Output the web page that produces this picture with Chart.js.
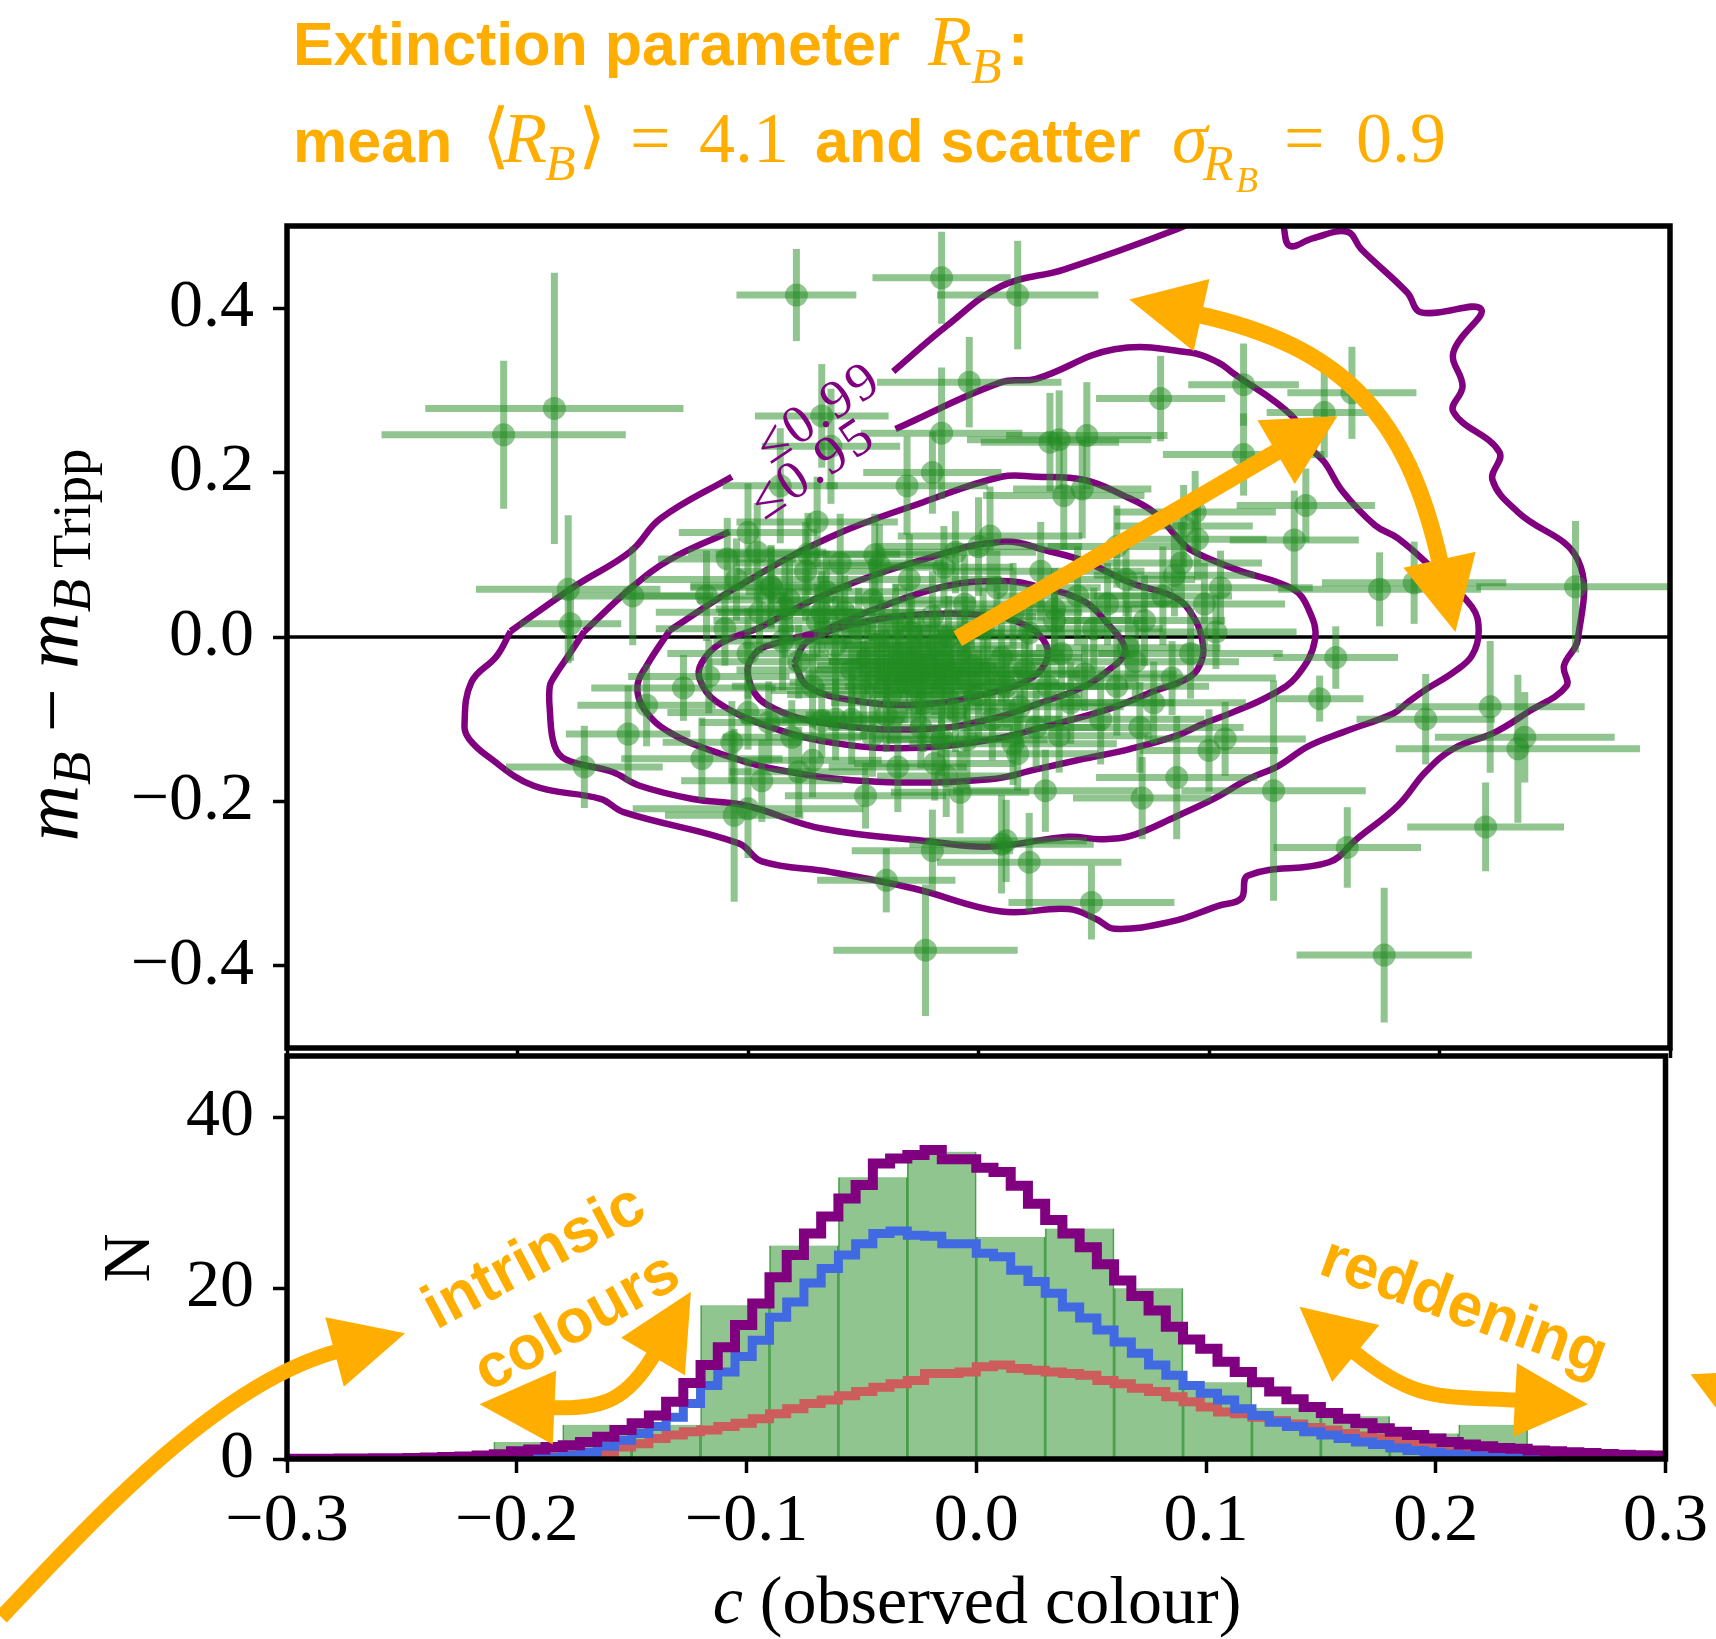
<!DOCTYPE html>
<html>
<head>
<meta charset="utf-8">
<title>Extinction parameter R_B</title>
<script src="https://cdn.jsdelivr.net/npm/chart.js@4.4.1/dist/chart.umd.min.js"></script>
<style>
  html, body { margin: 0; padding: 0; background: #fff; }
  #wrap { position: relative; width: 1716px; height: 1639px; overflow: hidden; background: #fff; }
  #wrap canvas { position: absolute; left: 0; top: 0; }
</style>
</head>
<body>
<div id="wrap">
  <canvas id="scatterChart" width="1716" height="1639"></canvas>
  <canvas id="histChart" width="1716" height="1639"></canvas>
</div>
<script>
// ---------------- data ----------------
// tick labels
const xTicks = [-0.3, -0.2, -0.1, 0.0, 0.1, 0.2, 0.3]
const topYTicks = [-0.4, -0.2, 0.0, 0.2, 0.4]
const histYTicks = [0, 20, 40]

// supernovae: observed colour c, Hubble residual, and their errors
const sx = [
  -0.206,-0.184,-0.079,-0.016,-0.016,-0.004,-0.068,-0.064,-0.086,-0.031,-0.020,-0.178,-0.150,-0.177,-0.100,-0.070,
  -0.109,-0.096,-0.074,-0.043,0.005,-0.010,-0.090,-0.084,-0.068,-0.118,0.017,0.079,0.115,0.115,0.150,0.162,
  0.142,0.137,0.095,0.035,0.047,0.031,0.037,0.045,0.174,0.189,0.259,0.094,0.089,0.085,0.155,0.148,
  0.194,0.222,0.237,0.234,0.220,0.160,0.176,0.128,0.049,0.022,0.012,0.071,0.086,0.100,0.107,0.029,
  0.017,0.103,0.033,0.065,-0.171,-0.152,-0.128,-0.144,-0.117,-0.106,-0.100,-0.040,-0.023,-0.020,0.010,-0.049,
  -0.094,-0.078,-0.072,-0.107,-0.100,-0.091,-0.068,-0.062,-0.035,-0.019,-0.014,-0.008,-0.120,-0.081,-0.046,-0.016,
  -0.090,-0.082,-0.075,-0.070,-0.066,-0.062,-0.058,-0.055,-0.052,-0.050,-0.048,-0.046,-0.044,-0.042,-0.040,-0.038,
  -0.036,-0.035,-0.034,-0.032,-0.030,-0.029,-0.028,-0.026,-0.025,-0.024,-0.022,-0.020,-0.019,-0.018,-0.016,-0.015,
  -0.013,-0.012,-0.010,-0.008,-0.006,-0.005,-0.003,0.000,0.002,0.004,0.006,0.008,0.010,0.012,0.015,0.018,
  0.020,0.022,0.025,0.027,0.030,0.033,0.036,0.040,0.043,0.046,0.050,0.053,0.056,0.060,0.064,0.068,
  0.072,0.076,0.080,0.084,0.088,0.092,-0.072,-0.078,-0.085,-0.095,-0.100,-0.105,-0.110,-0.060,-0.045,-0.030,
  -0.015,0.000,-0.040,-0.025,-0.055,0.015,-0.005,0.035,0.060,0.070,0.098,0.105
]
const sy = [
  0.246,0.278,0.416,0.437,0.248,0.310,0.269,0.232,0.184,0.184,0.200,0.058,0.050,0.016,0.127,0.140,
  0.095,0.103,0.101,0.087,0.123,0.103,0.062,0.034,0.030,0.050,0.416,0.290,0.307,0.222,0.273,0.297,
  0.160,0.118,0.119,0.240,0.245,0.237,0.172,0.180,0.058,0.066,0.061,0.152,0.135,0.075,-0.025,-0.075,
  -0.100,-0.085,-0.122,-0.136,-0.231,-0.256,-0.387,-0.187,-0.323,-0.274,-0.248,-0.196,-0.171,-0.138,-0.124,-0.187,
  -0.142,0.006,0.034,-0.013,-0.158,-0.118,-0.062,-0.083,-0.048,-0.217,-0.209,-0.296,-0.381,-0.260,-0.252,-0.193,
  -0.175,-0.164,-0.150,-0.128,-0.092,-0.104,-0.102,-0.100,-0.158,-0.154,-0.169,-0.189,-0.148,-0.122,-0.120,-0.124,
  0.060,0.045,0.080,0.020,0.055,-0.010,0.030,-0.040,0.010,-0.065,-0.025,0.045,-0.050,-0.005,-0.035,-0.070,
  0.015,-0.045,-0.020,-0.055,-0.030,0.005,-0.060,-0.040,-0.015,-0.080,-0.035,0.025,-0.050,-0.010,-0.065,-0.030,
  0.000,-0.045,-0.090,-0.020,0.040,-0.055,-0.035,-0.070,0.010,-0.045,-0.100,0.060,-0.025,-0.060,0.030,-0.085,
  -0.040,0.005,-0.110,0.080,-0.060,0.020,-0.020,-0.080,0.050,-0.045,0.010,-0.100,0.040,-0.060,0.070,-0.030,
  0.020,-0.080,0.050,-0.050,0.090,-0.020,-0.060,-0.030,-0.005,0.030,-0.020,0.070,0.010,0.090,0.100,0.070,
  0.085,0.110,-0.095,-0.110,-0.100,-0.130,-0.125,-0.120,0.110,-0.110,0.040,0.060
]
const sxErr = [
  0.053,0.056,0.026,0.030,0.035,0.040,0.029,0.030,0.025,0.035,0.030,0.040,0.035,0.022,0.030,0.035,
  0.030,0.030,0.040,0.030,0.040,0.035,0.035,0.030,0.045,0.035,0.035,0.028,0.024,0.035,0.025,0.028,
  0.030,0.028,0.030,0.040,0.035,0.030,0.035,0.030,0.044,0.040,0.043,0.035,0.030,0.035,0.027,0.019,
  0.030,0.041,0.039,0.053,0.034,0.032,0.038,0.040,0.036,0.040,0.035,0.030,0.035,0.030,0.035,0.040,
  0.035,0.035,0.040,0.040,0.034,0.027,0.040,0.030,0.035,0.030,0.050,0.030,0.040,0.035,0.040,0.035,
  0.035,0.030,0.030,0.030,0.035,0.030,0.035,0.030,0.030,0.035,0.030,0.030,0.035,0.030,0.035,0.030,
  0.035,0.040,0.030,0.045,0.035,0.040,0.030,0.050,0.035,0.040,0.030,0.045,0.035,0.040,0.030,0.045,
  0.035,0.040,0.030,0.050,0.035,0.040,0.030,0.045,0.035,0.040,0.030,0.045,0.035,0.040,0.030,0.050,
  0.035,0.040,0.030,0.045,0.035,0.040,0.030,0.045,0.035,0.040,0.030,0.045,0.035,0.040,0.030,0.045,
  0.035,0.040,0.030,0.045,0.035,0.040,0.030,0.045,0.035,0.040,0.030,0.045,0.035,0.040,0.030,0.045,
  0.035,0.040,0.030,0.045,0.035,0.040,0.035,0.040,0.030,0.045,0.035,0.040,0.030,0.045,0.035,0.040,
  0.030,0.045,0.035,0.040,0.030,0.045,0.035,0.040,0.030,0.045,0.035,0.040
]
const syErr = [
  0.090,0.165,0.056,0.056,0.080,0.055,0.063,0.070,0.070,0.060,0.050,0.090,0.060,0.045,0.060,0.055,
  0.050,0.060,0.050,0.050,0.060,0.050,0.050,0.060,0.050,0.055,0.066,0.052,0.050,0.050,0.055,0.056,
  0.045,0.060,0.050,0.060,0.065,0.060,0.065,0.060,0.045,0.050,0.080,0.050,0.050,0.050,0.038,0.028,
  0.055,0.080,0.055,0.090,0.054,0.049,0.082,0.134,0.045,0.060,0.050,0.050,0.075,0.050,0.045,0.050,
  0.045,0.045,0.050,0.050,0.050,0.059,0.040,0.050,0.045,0.105,0.060,0.039,0.080,0.050,0.060,0.040,
  0.050,0.055,0.045,0.050,0.045,0.050,0.045,0.050,0.055,0.045,0.050,0.050,0.050,0.045,0.050,0.045,
  0.050,0.055,0.060,0.045,0.050,0.060,0.045,0.055,0.050,0.060,0.045,0.050,0.055,0.050,0.045,0.060,
  0.050,0.055,0.045,0.050,0.060,0.045,0.050,0.055,0.045,0.060,0.050,0.055,0.045,0.050,0.060,0.045,
  0.050,0.055,0.050,0.045,0.060,0.050,0.045,0.055,0.050,0.060,0.050,0.045,0.055,0.050,0.060,0.045,
  0.050,0.055,0.050,0.060,0.045,0.050,0.055,0.050,0.060,0.045,0.050,0.055,0.050,0.060,0.045,0.050,
  0.055,0.050,0.060,0.045,0.050,0.055,0.050,0.045,0.060,0.050,0.055,0.050,0.045,0.060,0.050,0.055,
  0.050,0.060,0.045,0.050,0.055,0.050,0.060,0.045,0.050,0.055,0.050,0.045
]

// probability contours of the model (null = gap for the label)
const contour1X = [-0.080,-0.074,-0.050,-0.021,0.005,0.020,0.028,0.030,0.023,0.005,-0.025,-0.055,-0.074,-0.080]
const contour1Y = [-0.032,-0.005,0.018,0.028,0.026,0.015,-0.003,-0.025,-0.050,-0.068,-0.082,-0.077,-0.060,-0.032]
const contour2X = [-0.068,-0.044,-0.014,0.010,0.025,0.046,0.057,0.063,0.063,0.057,0.046,0.025,0.005,-0.023,-0.064,-0.092,-0.100,-0.097,-0.087,-0.068]
const contour2Y = [0.007,0.035,0.062,0.068,0.062,0.043,0.013,-0.009,-0.023,-0.039,-0.060,-0.082,-0.100,-0.112,-0.106,-0.082,-0.048,-0.020,-0.007,0.007]
const contour3X = [-0.096,-0.064,-0.024,0.010,0.031,0.046,0.066,0.086,0.094,0.097,0.097,0.092,0.076,0.056,0.030,0.005,-0.030,-0.060,-0.090,-0.114,-0.121,-0.120,-0.112,-0.096]
const contour3Y = [0.010,0.055,0.094,0.116,0.104,0.092,0.066,0.047,0.021,-0.003,-0.027,-0.048,-0.066,-0.088,-0.108,-0.125,-0.135,-0.130,-0.110,-0.078,-0.051,-0.031,-0.008,0.010]
const contour4X = [-0.134,-0.104,-0.064,-0.024,0.010,0.025,0.046,0.063,0.076,0.086,0.092,0.112,0.136,0.143,0.146,0.138,0.126,0.110,0.097,0.086,0.066,0.046,0.025,0.005,-0.044,-0.084,-0.114,-0.134,-0.145,-0.148,-0.144,-0.134]
const contour4Y = [0.008,0.062,0.122,0.164,0.195,0.195,0.191,0.172,0.152,0.122,0.106,0.082,0.059,0.035,-0.003,-0.048,-0.072,-0.092,-0.106,-0.120,-0.136,-0.148,-0.161,-0.173,-0.176,-0.163,-0.140,-0.116,-0.088,-0.060,-0.035,0.008]
const contour5X = [-0.171,-0.151,-0.134,-0.108,null,-0.036,0.010,0.025,0.059,0.092,0.104,0.110,0.136,0.143,0.150,0.158,0.172,0.182,0.196,0.214,0.217,0.214,0.206,0.194,0.186,0.180,0.158,0.143,0.130,0.117,0.102,0.086,0.066,0.053,0.039,0.005,-0.020,-0.068,-0.101,-0.124,-0.147,-0.159,-0.179,-0.184,-0.186,-0.186,-0.184,-0.178,-0.171]
const contour5Y = [0.007,0.059,0.094,0.128,null,0.253,0.310,0.314,0.350,0.346,0.334,0.322,0.269,0.233,0.213,0.177,0.136,0.120,0.086,0.037,0.007,-0.023,-0.043,-0.064,-0.080,-0.093,-0.116,-0.133,-0.157,-0.173,-0.197,-0.218,-0.242,-0.246,-0.243,-0.255,-0.249,-0.233,-0.205,-0.197,-0.181,-0.164,-0.149,-0.132,-0.088,-0.060,-0.048,-0.023,0.007]
const contour6X = [-0.203,-0.175,-0.151,-0.138,-0.107,null,-0.037,-0.014,0.010,0.037,0.086,0.107,0.128,0.132,0.135,0.145,0.160,0.166,0.186,0.192,0.218,0.206,0.210,0.206,0.226,0.223,0.234,0.260,0.260,0.254,0.255,0.238,0.224,0.206,0.194,0.182,0.164,0.152,0.117,0.114,0.104,0.084,0.059,0.051,0.039,0.010,-0.028,-0.064,-0.094,-0.104,-0.154,-0.164,-0.193,-0.213,-0.221,-0.223,-0.220,-0.209,-0.203]
const contour6Y = [0.007,0.062,0.104,0.144,0.195,null,0.323,0.378,0.427,0.447,0.496,0.523,0.530,0.503,0.476,0.485,0.493,0.472,0.419,0.395,0.399,0.346,0.305,0.274,0.225,0.191,0.152,0.094,-0.003,-0.035,-0.060,-0.092,-0.116,-0.136,-0.164,-0.205,-0.246,-0.274,-0.290,-0.318,-0.327,-0.346,-0.355,-0.343,-0.331,-0.334,-0.306,-0.286,-0.273,-0.251,-0.213,-0.197,-0.181,-0.145,-0.124,-0.108,-0.055,-0.023,0.007]
const contourLabels = ['\u22640.99', '\u22640.95']

// observed colour histogram
const histEdges = [-0.21,-0.18,-0.15,-0.12,-0.09,-0.06,-0.03,0.00,0.03,0.06,0.09,0.12,0.15,0.18,0.21,0.24]
const histCounts = [2,4,4,18,25,33,36,26,27,20,9,6,5,3,4]

// model colour distributions, 80 bins of 0.0075 from -0.3
const fineStart = -0.3
const fineWidth = 0.0075
const totalModel = [
  0.02,0.03,0.04,0.05,0.06,0.08,0.10,0.13,0.17,0.22,0.30,0.40,0.55,
  0.90,1.1,1.4,1.6,2.0,2.6,3.4,
  4.2,5.1,6.7,8.9,11.0,13.1,15.7,18.2,21.3,23.9,
  26.4,28.4,30.5,32.1,34.6,35.2,35.6,36.2,35.1,35.1,
  34.1,33.6,32.0,29.9,28.0,26.4,24.8,22.8,20.9,19.1,
  17.4,15.5,14.0,12.9,11.4,10.2,9.0,7.9,7.0,6.1,
  5.4,4.7,4.2,3.6,3.2,2.8,2.4,2.0,1.7,1.5,
  1.3,1.2,1.0,0.9,0.8,0.7,0.6,0.5,0.45,0.4
]
const intrinsicModel = [
  0,0,0,0,0,0,0,0,0,0,0,0,0.02,0.05,0.1,0.2,0.4,
  0.8,1.5,2.2,
  3.0,3.8,4.9,6.5,8.6,10.2,12.0,13.9,16.6,18.4,
  20.6,22.3,23.9,25.2,26.4,26.7,26.2,26.1,25.2,25.2,
  24.1,23.7,22.1,20.8,19.4,17.8,16.5,15.1,13.7,12.4,
  11.0,9.8,8.6,7.7,6.9,5.9,5.1,4.3,3.8,3.2,
  2.8,2.4,2.0,1.7,1.3,1.0,0.8,0.6,0.45,0.35,
  0.25,0.2,0.15,0.1,0.08,0.06,0.04,0.03,0.02,0.01
]
const reddenedModel = [
  0,0,0,0,0,0,0,0,0,0,0.05,0.1,0.15,0.2,0.3,0.4,0.5,0.65,
  0.8,1.4,
  1.8,2.4,2.8,3.2,3.4,3.8,4.2,4.7,5.3,5.9,
  6.5,6.9,7.4,7.9,8.4,8.8,9.2,10.0,10.0,10.2,
  10.8,11.0,10.6,10.4,10.2,10.0,9.8,9.2,8.8,8.3,
  7.9,7.3,6.7,6.1,5.5,5.3,4.9,4.5,4.1,3.7,
  3.4,3.0,2.7,2.4,2.1,1.8,1.6,1.4,1.2,1.0,
  0.9,0.8,0.7,0.6,0.5,0.45,0.4,0.35,0.3,0.25
]

// ---------------- styles ----------------
const ORANGE = '#FFAE00'
const PURPLE = '#800080'
const GREEN_A = 'rgba(34,139,34,0.5)'
const SERIF = '"Liberation Serif", "DejaVu Serif", serif'
const SANS = '"Liberation Sans", Arial, sans-serif'

Chart.defaults.color = '#000'
Chart.defaults.font.family = SERIF

function fmtTick(v) {
  return (v < 0 ? '\u2212' : '') + Math.abs(v).toFixed(1)
}

// orange annotation arrows (data coordinates of each panel)
const topArrows = [
  { kind: 'line', from: [-0.009, -0.002], to: [0.1557, 0.2685], width: 17, len: 71, half: 37 },
  { kind: 'curve', p: [[0.0654, 0.4107], [0.1587, 0.3536], [0.1864, 0.2673], [0.2069, 0.0061]], width: 17, len: 74, half: 37, both: true }
]
const bottomArrows = [
  { kind: 'curve', p: [[-0.4243, -18.54], [-0.3796, -5.77], [-0.3284, 9.0], [-0.2486, 14.74]], width: 15, len: 73, half: 36, both: false },
  { kind: 'curve', p: [[-0.2162, 6.42], [-0.162, 5.76], [-0.1517, 6.95], [-0.1242, 19.58]], width: 15, len: 75, half: 37, both: true },
  { kind: 'curve', p: [[0.1407, 17.82], [0.1909, 6.64], [0.2013, 7.39], [0.2662, 6.42]], width: 15, len: 73, half: 37, both: true },
  { kind: 'line', from: [0.370, 2.5], to: [0.3109, 9.93], width: 15, len: 70, half: 37 }
]
const bottomNotes = [
  { text: 'intrinsic', at: [-0.1922, 23.5], angle: -28 },
  { text: 'colours', at: [-0.1736, 15.9], angle: -29 },
  { text: 'reddening', at: [0.212, 17.67], angle: 20 }
]
const contourLabelPos = [[-0.0690, 0.2710], [-0.0715, 0.2030]]

function toPx(chart, pt) {
  return [chart.scales.x.getPixelForValue(pt[0]), chart.scales.y.getPixelForValue(pt[1])]
}

function arrowHead(ctx, tip, from, len, half) {
  const dx = tip[0] - from[0], dy = tip[1] - from[1]
  const d = Math.hypot(dx, dy)
  const ux = dx / d, uy = dy / d
  const bx = tip[0] - ux * len, by = tip[1] - uy * len
  ctx.beginPath()
  ctx.moveTo(tip[0], tip[1])
  ctx.lineTo(bx - uy * half, by + ux * half)
  ctx.lineTo(bx + uy * half, by - ux * half)
  ctx.closePath()
  ctx.fill()
  // shaft ends a little inside the head
  return [bx + ux * 4, by + uy * 4]
}

function drawArrows(chart, list) {
  const ctx = chart.ctx
  ctx.save()
  ctx.fillStyle = ORANGE
  ctx.strokeStyle = ORANGE
  ctx.lineCap = 'butt'
  list.forEach(a => {
    ctx.lineWidth = a.width
    if (a.kind === 'line') {
      const p0 = toPx(chart, a.from), p1 = toPx(chart, a.to)
      const end = arrowHead(ctx, p1, p0, a.len, a.half)
      ctx.beginPath()
      ctx.moveTo(p0[0], p0[1])
      ctx.lineTo(end[0], end[1])
      ctx.stroke()
    } else {
      const [p0, c1, c2, p3] = a.p.map(q => toPx(chart, q))
      const end = arrowHead(ctx, p3, c2, a.len, a.half)
      const start = a.both ? arrowHead(ctx, p0, c1, a.len, a.half) : p0
      ctx.beginPath()
      ctx.moveTo(start[0], start[1])
      ctx.bezierCurveTo(c1[0], c1[1], c2[0], c2[1], end[0], end[1])
      ctx.stroke()
    }
  })
  ctx.restore()
}

function drawBox(chart, w) {
  const { ctx, chartArea: a } = chart
  ctx.save()
  ctx.strokeStyle = '#000'
  ctx.lineWidth = w
  ctx.strokeRect(a.left, a.top, a.right - a.left, a.bottom - a.top)
  ctx.restore()
}

function drawPieces(ctx, pieces) {
  pieces.forEach(p => {
    ctx.font = p[3]
    ctx.fillText(p[2], p[0], p[1])
  })
}

// ---------------- top panel ----------------
const topPlugin = {
  id: 'topDecor',
  beforeDatasetsDraw(chart) {
    const { ctx, chartArea: a, scales: { y } } = chart
    const y0 = y.getPixelForValue(0)
    ctx.save()
    ctx.strokeStyle = '#000'
    ctx.lineWidth = 3.5
    ctx.beginPath()
    ctx.moveTo(a.left, y0)
    ctx.lineTo(a.right, y0)
    ctx.stroke()
    ctx.restore()
  },
  beforeDatasetDraw(chart, args) {
    if (args.index !== 0) return
    const { ctx, chartArea: a, scales: { x, y } } = chart
    ctx.save()
    ctx.beginPath()
    ctx.rect(a.left, a.top, a.right - a.left, a.bottom - a.top)
    ctx.clip()
    ctx.strokeStyle = GREEN_A
    ctx.lineWidth = 7
    ctx.lineCap = 'butt'
    for (let i = 0; i < sx.length; i++) {
      const px = x.getPixelForValue(sx[i]), py = y.getPixelForValue(sy[i])
      ctx.beginPath()
      ctx.moveTo(x.getPixelForValue(sx[i] - sxErr[i]), py)
      ctx.lineTo(x.getPixelForValue(sx[i] + sxErr[i]), py)
      ctx.stroke()
      ctx.beginPath()
      ctx.moveTo(px, y.getPixelForValue(sy[i] - syErr[i]))
      ctx.lineTo(px, y.getPixelForValue(sy[i] + syErr[i]))
      ctx.stroke()
    }
    ctx.restore()
  },
  afterDraw(chart) {
    const ctx = chart.ctx
    // contour labels
    ctx.save()
    ctx.fillStyle = PURPLE
    ctx.font = '54px ' + SERIF
    ctx.letterSpacing = '3px'
    ctx.textAlign = 'center'
    ctx.textBaseline = 'middle'
    contourLabels.forEach((t, i) => {
      const p = toPx(chart, contourLabelPos[i])
      ctx.save()
      ctx.translate(p[0], p[1])
      ctx.rotate(-34 * Math.PI / 180)
      ctx.fillText(t, 0, 0)
      ctx.restore()
    })
    ctx.letterSpacing = '0px'
    ctx.restore()

    drawArrows(chart, topArrows)
    drawBox(chart, 5.5)

    // header
    ctx.save()
    ctx.fillStyle = ORANGE
    ctx.textBaseline = 'alphabetic'
    ctx.textAlign = 'left'
    const b = 'bold 61px ' + SANS
    const m = '72px ' + SERIF, mi = 'italic 72px ' + SERIF
    const s1 = 'italic 50px ' + SERIF, s2 = 'italic 36px ' + SERIF
    const br = '72px "DejaVu Serif", serif'
    drawPieces(ctx, [
      [293, 65, 'Extinction parameter', b], [928, 65, 'R', mi], [971, 83, 'B', s1], [1008, 65, ':', b],
      [293, 162, 'mean', b], [482, 160, '\u27E8', br], [503, 162, 'R', mi], [545, 180, 'B', s1],
      [578, 160, '\u27E9', br], [630, 162, '=', m], [699, 162, '4.1', m], [815, 162, 'and scatter', b],
      [1172, 162, '\u03C3', mi], [1203, 180, 'R', s1], [1236, 192, 'B', s2], [1284, 162, '=', m], [1356, 162, '0.9', m]
    ])
    ctx.restore()

    // y axis title: m_B - m_B Tripp
    ctx.save()
    ctx.fillStyle = '#000'
    ctx.textBaseline = 'alphabetic'
    ctx.textAlign = 'left'
    const parts = [['m', 'italic', 1, 0], ['B', 'italic', 0.7, 1], [' \u2212 ', 'normal', 1, 0],
                   ['m', 'italic', 1, 0], ['B', 'italic', 0.7, 1], ['\u2009Tripp', 'normal', 0.7, 1]]
    const measure = s => parts.reduce((w, p) => { ctx.font = p[1] + ' ' + (s * p[2]) + 'px ' + SERIF; return w + ctx.measureText(p[0]).width }, 0)
    let size = 68
    size = Math.min(78, size * 440 / measure(size))
    const w = measure(size)
    ctx.translate(78, 645)
    ctx.rotate(-Math.PI / 2)
    let u = -w / 2
    parts.forEach(p => {
      ctx.font = p[1] + ' ' + (size * p[2]) + 'px ' + SERIF
      ctx.fillText(p[0], u, p[3] ? size * 0.16 : 0)
      u += ctx.measureText(p[0]).width
    })
    ctx.restore()
  }
}

const contourSets = [
  [contour1X, contour1Y], [contour2X, contour2Y], [contour3X, contour3Y],
  [contour4X, contour4Y], [contour5X, contour5Y], [contour6X, contour6Y]
]

new Chart(document.getElementById('scatterChart'), {
  type: 'scatter',
  data: {
    datasets: [
      {
        data: sx.map((x, i) => ({ x: x, y: sy[i] })),
        pointRadius: 11.5,
        pointBackgroundColor: GREEN_A,
        pointBorderWidth: 0,
        pointBorderColor: 'rgba(0,0,0,0)',
        order: 0
      }
    ].concat(contourSets.map(c => ({
      type: 'line',
      data: c[0].map((x, i) => ({ x: x, y: c[1][i] })),
      borderColor: PURPLE,
      borderWidth: 6.5,
      pointRadius: 0,
      tension: 0.4,
      fill: false,
      spanGaps: false,
      order: 1
    })))
  },
  options: {
    responsive: false,
    animation: false,
    events: [],
    layout: { padding: { left: 20, right: 46, top: 226, bottom: 581 } },
    plugins: { legend: { display: false }, tooltip: { enabled: false } },
    scales: {
      x: {
        type: 'linear', min: -0.3, max: 0.3,
        afterBuildTicks: s => { s.ticks = xTicks.map(v => ({ value: v })) },
        afterFit: s => { s.height = 10 },
        ticks: { display: false },
        grid: { drawOnChartArea: false, drawTicks: true, tickLength: 10, tickWidth: 3.5, tickColor: '#000' },
        border: { display: false }
      },
      y: {
        type: 'linear', min: -0.5, max: 0.5,
        afterBuildTicks: s => { s.ticks = topYTicks.map(v => ({ value: v })) },
        afterFit: s => { s.width = 267 },
        ticks: { padding: 19, font: { family: SERIF, size: 68 }, color: '#000', callback: v => fmtTick(v) },
        grid: { drawOnChartArea: false, drawTicks: true, tickLength: 14, tickWidth: 3.5, tickColor: '#000' },
        border: { display: false }
      }
    }
  },
  plugins: [topPlugin]
})

// ---------------- bottom panel ----------------
function stepData(vals) {
  const pts = vals.map((v, i) => ({ x: fineStart + i * fineWidth, y: v }))
  pts.push({ x: fineStart + vals.length * fineWidth, y: vals[vals.length - 1] })
  return pts
}

const histPlugin = {
  id: 'histDecor',
  afterDraw(chart) {
    const ctx = chart.ctx
    drawBox(chart, 5.5)
    drawArrows(chart, bottomArrows)

    ctx.save()
    ctx.fillStyle = ORANGE
    ctx.font = 'bold 62px ' + SANS
    ctx.textAlign = 'center'
    ctx.textBaseline = 'middle'
    bottomNotes.forEach(n => {
      const p = toPx(chart, n.at)
      ctx.save()
      ctx.translate(p[0], p[1])
      ctx.rotate(n.angle * Math.PI / 180)
      ctx.fillText(n.text, 0, 0)
      ctx.restore()
    })
    ctx.restore()

    // axis titles
    ctx.save()
    ctx.fillStyle = '#000'
    ctx.textBaseline = 'alphabetic'
    ctx.textAlign = 'left'
    ctx.font = 'italic 68px ' + SERIF
    const cw = ctx.measureText('c').width
    ctx.font = '68px ' + SERIF
    const rest = ' (observed colour)'
    const rw = ctx.measureText(rest).width
    const x0 = 977 - (cw + rw) / 2
    ctx.font = 'italic 68px ' + SERIF
    ctx.fillText('c', x0, 1623)
    ctx.font = '68px ' + SERIF
    ctx.fillText(rest, x0 + cw, 1623)
    ctx.translate(131, 1258)
    ctx.rotate(-Math.PI / 2)
    ctx.textAlign = 'center'
    ctx.textBaseline = 'middle'
    ctx.fillText('N', 0, 0)
    ctx.restore()
  }
}

new Chart(document.getElementById('histChart'), {
  type: 'bar',
  data: {
    datasets: [
      { type: 'line', data: stepData(totalModel), borderColor: PURPLE, borderWidth: 10, stepped: true, pointRadius: 0, fill: false, borderJoinStyle: 'miter', order: 0 },
      { type: 'line', data: stepData(intrinsicModel), borderColor: '#4169E1', borderWidth: 9, stepped: true, pointRadius: 0, fill: false, borderJoinStyle: 'miter', order: 1 },
      { type: 'line', data: stepData(reddenedModel), borderColor: '#CD5C5C', borderWidth: 9, stepped: true, pointRadius: 0, fill: false, borderJoinStyle: 'miter', order: 2 },
      {
        type: 'bar',
        data: histCounts.map((c, i) => ({ x: (histEdges[i] + histEdges[i + 1]) / 2, y: c })),
        backgroundColor: GREEN_A,
        borderColor: 'rgba(34,139,34,0.75)',
        borderWidth: { left: 1, right: 1, top: 0, bottom: 0 },
        borderSkipped: false,
        barPercentage: 1,
        categoryPercentage: 1,
        grouped: false,
        order: 3
      }
    ]
  },
  options: {
    responsive: false,
    animation: false,
    events: [],
    layout: { padding: { left: 20, right: 46, top: 1056, bottom: 80 } },
    plugins: { legend: { display: false }, tooltip: { enabled: false } },
    scales: {
      x: {
        type: 'linear', min: -0.3, max: 0.3, offset: false,
        afterBuildTicks: s => { s.ticks = xTicks.map(v => ({ value: v })) },
        afterFit: s => { s.height = 100 },
        ticks: { padding: 8, autoSkip: false, maxRotation: 0, font: { family: SERIF, size: 68 }, color: '#000', callback: v => fmtTick(v) },
        grid: { offset: false, drawOnChartArea: false, drawTicks: true, tickLength: 14, tickWidth: 3.5, tickColor: '#000' },
        border: { display: false }
      },
      y: {
        type: 'linear', min: 0, max: 47.2,
        afterBuildTicks: s => { s.ticks = histYTicks.map(v => ({ value: v })) },
        afterFit: s => { s.width = 267 },
        ticks: { padding: 19, font: { family: SERIF, size: 68 }, color: '#000', callback: v => String(v) },
        grid: { drawOnChartArea: false, drawTicks: true, tickLength: 14, tickWidth: 3.5, tickColor: '#000' },
        border: { display: false }
      }
    }
  },
  plugins: [histPlugin]
})
</script>
</body>
</html>
